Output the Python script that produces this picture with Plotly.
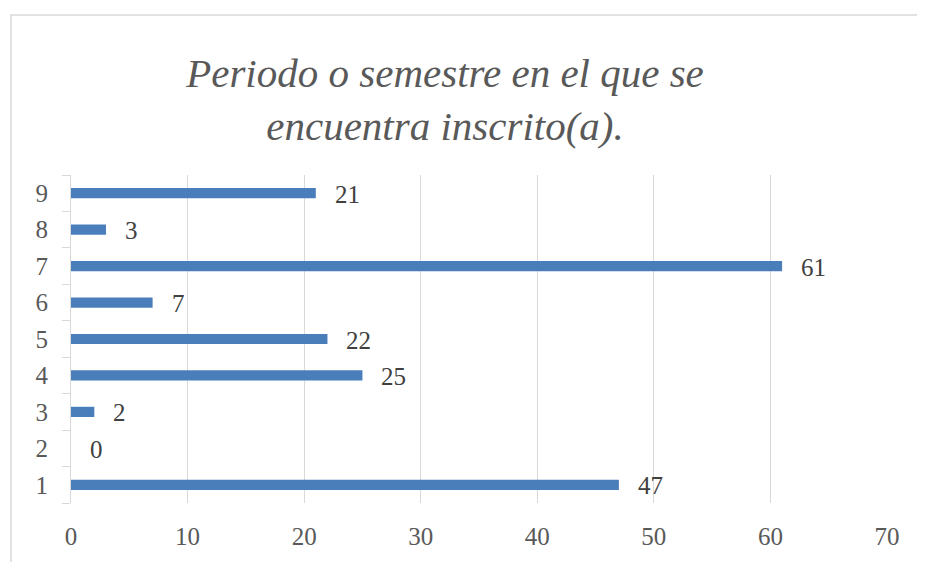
import plotly.graph_objects as go

categories = ["1", "2", "3", "4", "5", "6", "7", "8", "9"]
values = [47, 0, 2, 25, 22, 7, 61, 3, 21]
x_ticks = [0, 10, 20, 30, 40, 50, 60, 70]
title_text = "Periodo o semestre en el que se<br>encuentra inscrito(a)."

SERIF = "Liberation Serif, DejaVu Serif, serif"

fig = go.Figure()
fig.add_trace(go.Bar(
    y=categories, x=values, orientation="h",
    marker=dict(color="#4A7EBB", line=dict(width=0)),
    width=0.28,
))

for i, v in enumerate(values):
    fig.add_annotation(x=v, y=i, text=str(v), showarrow=False,
                       xanchor="left", yanchor="middle", xshift=17, yshift=-1,
                       font=dict(family=SERIF, size=25, color="#404040"))

# page body has an 8px margin, so the figure is drawn 8px shifted
OFF = 8
L, R, T, B = 71, 38, 175, 59
W, H = 925, 562
pw = (W - R) - L
ph = (H - B) - T

fig.update_layout(
    width=W - OFF, height=H - OFF,
    margin=dict(l=L - OFF, r=R, t=T - OFF, b=B, autoexpand=False),
    paper_bgcolor="white", plot_bgcolor="white",
    showlegend=False,
    title=dict(text=title_text, x=(445 - OFF) / (W - OFF), xanchor="center",
               y=1 - (87 - OFF) / (H - OFF), yanchor="middle",
               font=dict(family=SERIF, size=41, color="#595959", style="italic")),
    xaxis=dict(range=[0, 70], tickvals=x_ticks, showgrid=True, gridcolor="#D9D9D9",
               gridwidth=1, zeroline=False, showline=False, ticks="",
               tickfont=dict(family=SERIF, size=25, color="#595959"), ticklabelstandoff=16),
    yaxis=dict(type="category", categoryorder="array", categoryarray=categories,
               range=[-0.5, 8.5], showgrid=False, zeroline=False,
               showline=True, linecolor="#D9D9D9", linewidth=1,
               ticks="outside", tickson="boundaries", ticklen=8, tickcolor="#D9D9D9",
               tickfont=dict(family=SERIF, size=25, color="#595959"), ticklabelstandoff=17),
    shapes=[dict(type="rect", xref="paper", yref="paper",
                 x0=(11 - L) / pw, x1=(940 - L) / pw,
                 y0=((H - B) - 580) / ph, y1=((H - B) - 15) / ph,
                 line=dict(color="#D9D9D9", width=1.5), fillcolor="rgba(0,0,0,0)",
                 layer="below")],
)

fig.write_html("out.html")
